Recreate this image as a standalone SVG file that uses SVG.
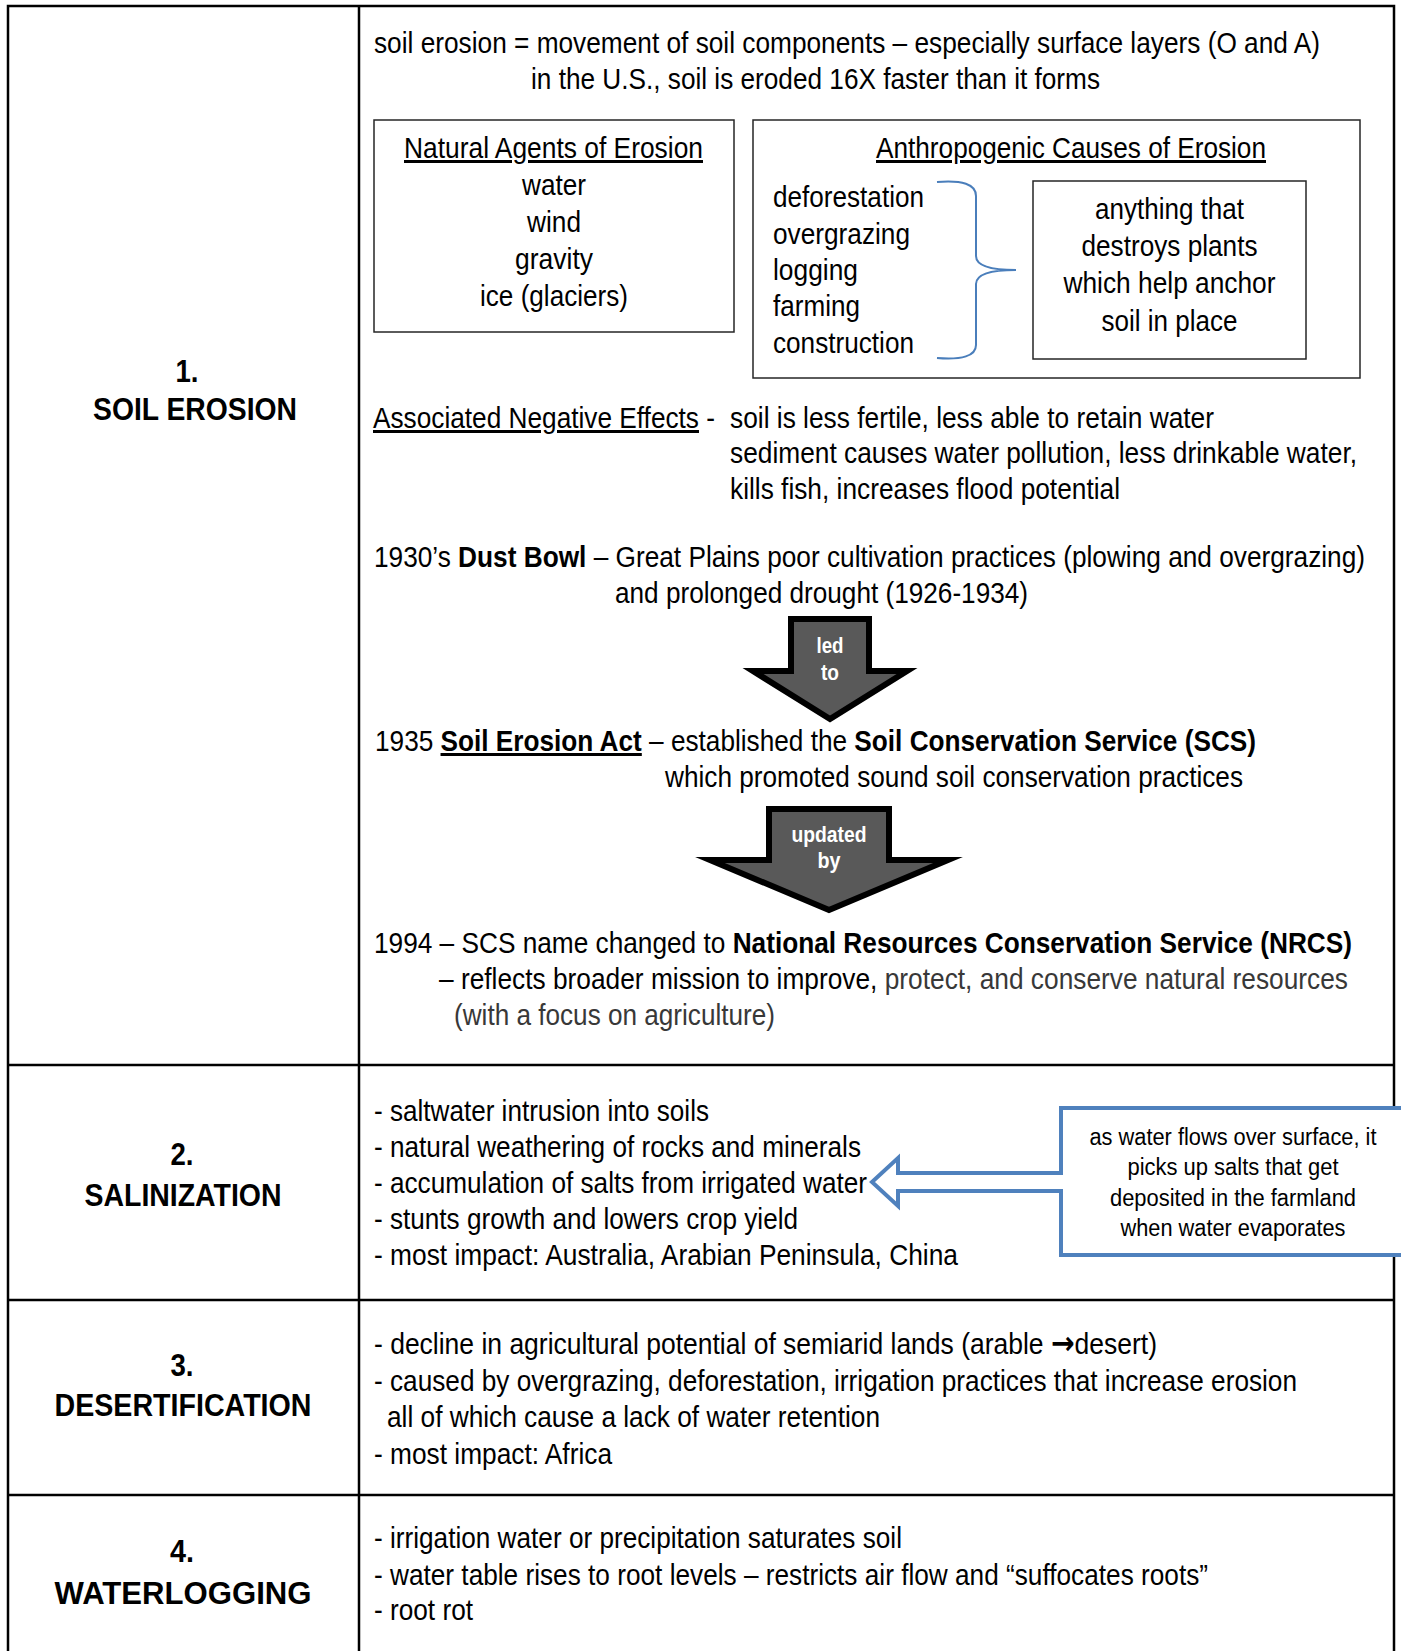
<svg xmlns="http://www.w3.org/2000/svg" width="1401" height="1651" viewBox="0 0 1401 1651">
<style>
text{font-family:"Liberation Sans",Arial,sans-serif;font-size:30px;fill:#000}
.b{font-weight:bold}
.c{text-anchor:middle}
.u{text-decoration:underline}
.g{fill:#383838}
.ar{font-family:"DejaVu Sans",sans-serif;font-weight:bold;font-size:32px}
.lab{font-size:31px;font-weight:bold;text-anchor:middle}
.at{font-size:22px;font-weight:bold;fill:#fff;text-anchor:middle}
.co{font-size:23px;text-anchor:middle}
.grid{fill:none;stroke:#000;stroke-width:2.5}
.box{fill:none;stroke:#262626;stroke-width:1.5}
.arr{fill:#595959;stroke:#000;stroke-width:6;stroke-miterlimit:10;stroke-linejoin:miter}
.blue{fill:none;stroke:#4a7ebb;stroke-width:2}
</style>
<rect width="1401" height="1651" fill="#fff"/>
<g id="table">
<rect class="grid" x="8" y="6" width="1386" height="1660"/>
<line class="grid" x1="359" y1="6" x2="359" y2="1660"/>
<line class="grid" x1="8" y1="1065" x2="1394" y2="1065"/>
<line class="grid" x1="8" y1="1300" x2="1394" y2="1300"/>
<line class="grid" x1="8" y1="1495" x2="1394" y2="1495"/>
</g>
<g id="label-1">
<text class="lab" x="187" y="382" textLength="23" lengthAdjust="spacingAndGlyphs">1.</text>
<text class="lab" x="195" y="420" textLength="204" lengthAdjust="spacingAndGlyphs">SOIL EROSION</text>
</g>
<g id="label-2">
<text class="lab" x="182" y="1165" textLength="23" lengthAdjust="spacingAndGlyphs">2.</text>
<text class="lab" x="183" y="1206" textLength="197" lengthAdjust="spacingAndGlyphs">SALINIZATION</text>
</g>
<g id="label-3">
<text class="lab" x="182" y="1376" textLength="23" lengthAdjust="spacingAndGlyphs">3.</text>
<text class="lab" x="183" y="1416" textLength="257" lengthAdjust="spacingAndGlyphs">DESERTIFICATION</text>
</g>
<g id="label-4">
<text class="lab" x="182" y="1562" textLength="24" lengthAdjust="spacingAndGlyphs">4.</text>
<text class="lab" x="183" y="1604" textLength="257" lengthAdjust="spacingAndGlyphs">WATERLOGGING</text>
</g>
<g id="definition">
<text x="374" y="53" textLength="946" lengthAdjust="spacingAndGlyphs">soil erosion = movement of soil components – especially surface layers (O and A)</text>
<text x="531" y="89" textLength="569" lengthAdjust="spacingAndGlyphs">in the U.S., soil is eroded 16X faster than it forms</text>
</g>
<g id="natural-agents">
<rect class="box" x="374" y="120" width="360" height="212"/>
<text class="c u" x="553.5" y="158" textLength="299" lengthAdjust="spacingAndGlyphs">Natural Agents of Erosion</text>
<text class="c" x="554" y="195" textLength="64" lengthAdjust="spacingAndGlyphs">water</text>
<text class="c" x="554" y="232" textLength="54" lengthAdjust="spacingAndGlyphs">wind</text>
<text class="c" x="554" y="269" textLength="78" lengthAdjust="spacingAndGlyphs">gravity</text>
<text class="c" x="554" y="306" textLength="148" lengthAdjust="spacingAndGlyphs">ice (glaciers)</text>
</g>
<g id="anthropogenic-causes">
<rect class="box" x="753" y="120" width="607" height="258"/>
<text class="u" x="876" y="158" textLength="390" lengthAdjust="spacingAndGlyphs">Anthropogenic Causes of Erosion</text>
<text x="773" y="207" textLength="151" lengthAdjust="spacingAndGlyphs">deforestation</text>
<text x="773" y="244" textLength="137" lengthAdjust="spacingAndGlyphs">overgrazing</text>
<text x="773" y="280" textLength="85" lengthAdjust="spacingAndGlyphs">logging</text>
<text x="773" y="316" textLength="87" lengthAdjust="spacingAndGlyphs">farming</text>
<text x="773" y="353" textLength="141" lengthAdjust="spacingAndGlyphs">construction</text>
</g>
<g id="plants-box">
<rect class="box" x="1033" y="181" width="273" height="178"/>
<text class="c" x="1169.5" y="219" textLength="149" lengthAdjust="spacingAndGlyphs">anything that</text>
<text class="c" x="1169.5" y="256" textLength="176" lengthAdjust="spacingAndGlyphs">destroys plants</text>
<text class="c" x="1169.5" y="293" textLength="212" lengthAdjust="spacingAndGlyphs">which help anchor</text>
<text class="c" x="1169.5" y="331" textLength="136" lengthAdjust="spacingAndGlyphs">soil in place</text>
</g>
<g id="negative-effects">
<text x="373" y="428" textLength="342" lengthAdjust="spacingAndGlyphs"><tspan class="u">Associated Negative Effects</tspan> -</text>
<text x="730" y="428" textLength="484" lengthAdjust="spacingAndGlyphs">soil is less fertile, less able to retain water</text>
<text x="730" y="463" textLength="627" lengthAdjust="spacingAndGlyphs">sediment causes water pollution, less drinkable water,</text>
<text x="730" y="499" textLength="390" lengthAdjust="spacingAndGlyphs">kills fish, increases flood potential</text>
</g>
<g id="dust-bowl">
<text x="374" y="567" textLength="991" lengthAdjust="spacingAndGlyphs">1930’s <tspan class="b">Dust Bowl</tspan> – Great Plains poor cultivation practices (plowing and overgrazing)</text>
<text x="615" y="603" textLength="413" lengthAdjust="spacingAndGlyphs">and prolonged drought (1926-1934)</text>
</g>
<g id="soil-erosion-act">
<text x="375" y="751" textLength="881" lengthAdjust="spacingAndGlyphs">1935 <tspan class="b u">Soil Erosion Act</tspan> – established the <tspan class="b">Soil Conservation Service (SCS)</tspan></text>
<text x="665" y="787" textLength="578" lengthAdjust="spacingAndGlyphs">which promoted sound soil conservation practices</text>
</g>
<g id="nrcs">
<text x="374" y="953" textLength="978" lengthAdjust="spacingAndGlyphs">1994 – SCS name changed to <tspan class="b">National Resources Conservation Service (NRCS)</tspan></text>
<text x="439" y="989" textLength="909" lengthAdjust="spacingAndGlyphs">– reflects broader mission to improve,<tspan class="g"> protect, and conserve natural resources</tspan></text>
<text class="g" x="454" y="1025" textLength="321" lengthAdjust="spacingAndGlyphs">(with a focus on agriculture)</text>
</g>
<g id="salinization-text">
<text x="374" y="1121" textLength="335" lengthAdjust="spacingAndGlyphs">- saltwater intrusion into soils</text>
<text x="374" y="1157" textLength="487" lengthAdjust="spacingAndGlyphs">- natural weathering of rocks and minerals</text>
<text x="374" y="1193" textLength="493" lengthAdjust="spacingAndGlyphs">- accumulation of salts from irrigated water</text>
<text x="374" y="1229" textLength="424" lengthAdjust="spacingAndGlyphs">- stunts growth and lowers crop yield</text>
<text x="374" y="1265" textLength="584" lengthAdjust="spacingAndGlyphs">- most impact: Australia, Arabian Peninsula, China</text>
</g>
<g id="desertification-text">
<text x="374" y="1354" textLength="783" lengthAdjust="spacingAndGlyphs">- decline in agricultural potential of semiarid lands (arable <tspan class="ar">→</tspan>desert)</text>
<text x="374" y="1391" textLength="923" lengthAdjust="spacingAndGlyphs">- caused by overgrazing, deforestation, irrigation practices that increase erosion</text>
<text x="387" y="1427" textLength="493" lengthAdjust="spacingAndGlyphs">all of which cause a lack of water retention</text>
<text x="374" y="1464" textLength="238" lengthAdjust="spacingAndGlyphs">- most impact: Africa</text>
</g>
<g id="waterlogging-text">
<text x="374" y="1548" textLength="528" lengthAdjust="spacingAndGlyphs">- irrigation water or precipitation saturates soil</text>
<text x="374" y="1585" textLength="834" lengthAdjust="spacingAndGlyphs">- water table rises to root levels – restricts air flow and “suffocates roots”</text>
<text x="374" y="1620" textLength="99" lengthAdjust="spacingAndGlyphs">- root rot</text>
</g>
<g id="callout">
<path d="M1061,1173 H898 V1158 L872,1182 L898,1206 V1191 H1061 V1255 H1420 V1108 H1061 Z" fill="#fff" stroke="#4f81bd" stroke-width="4"/>
<text class="co" x="1233" y="1145" textLength="287" lengthAdjust="spacingAndGlyphs">as water flows over surface, it</text>
<text class="co" x="1233" y="1175" textLength="211" lengthAdjust="spacingAndGlyphs">picks up salts that get</text>
<text class="co" x="1233" y="1206" textLength="246" lengthAdjust="spacingAndGlyphs">deposited in the farmland</text>
<text class="co" x="1233" y="1236" textLength="225" lengthAdjust="spacingAndGlyphs">when water evaporates</text>
</g>
<g id="connectors">
<path class="blue" d="M937,182 C962,180 976,184 976,196 L976,256 C976,266 990,270 1016,270 C990,270 976,274 976,284 L976,345 C976,356 962,360 937,358"/>
<g id="arrow-led-to">
<path class="arr" d="M791,619 H869 V671 H907 L830,719 L753,671 H791 Z"/>
<text class="at" x="830" y="653" textLength="27" lengthAdjust="spacingAndGlyphs">led</text>
<text class="at" x="830" y="680" textLength="18" lengthAdjust="spacingAndGlyphs">to</text>
</g>
<g id="arrow-updated-by">
<path class="arr" d="M769,809 H889 V860 H948 L829,910 L710,860 H769 Z"/>
<text class="at" x="829" y="842" textLength="75" lengthAdjust="spacingAndGlyphs">updated</text>
<text class="at" x="829" y="868" textLength="23" lengthAdjust="spacingAndGlyphs">by</text>
</g>
</g>
</svg>
